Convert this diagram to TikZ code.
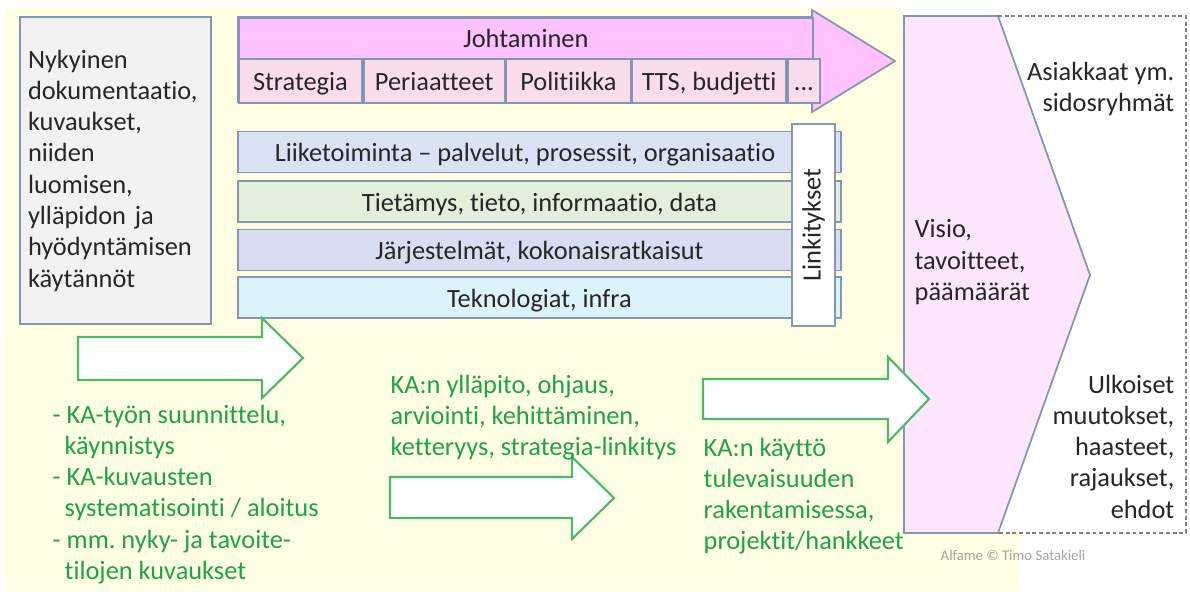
\documentclass[tikz,border=0pt]{standalone}
\usepackage{fontspec}
\setmainfont{Carlito}[Ligatures=CommonOff]
\usetikzlibrary{positioning}
\frenchspacing

\definecolor{bgyellow}{HTML}{FFFFE3}
\definecolor{edgeblue}{HTML}{8497B0}
\definecolor{ink}{HTML}{262626}
\definecolor{boxgray}{HTML}{F2F2F2}
\definecolor{headpink}{HTML}{FFC2FF}
\definecolor{cellpink}{HTML}{FADDEC}
\definecolor{liikeblue}{HTML}{DAE3F3}
\definecolor{tietogreen}{HTML}{E2EFDA}
\definecolor{jarjblue}{HTML}{D8DEF1}
\definecolor{teknocyan}{HTML}{DDF3FC}
\definecolor{visiopink}{HTML}{FFE6FF}
\definecolor{kagreen}{HTML}{1FA24B}
\definecolor{arrowgreen}{HTML}{4DB86A}
\definecolor{markgray}{HTML}{A3A3A3}

\tikzset{
  box/.style={draw=edgeblue, line width=0.5pt, inner sep=0pt, text=ink},
  cell/.style={box, fill=cellpink, minimum height=0.44cm, text height=1.5ex, text depth=0.35ex},
  layer/.style={box, minimum width=6.03cm, minimum height=0.41cm, text height=1.5ex, text depth=0.35ex},
  blockarrow/.style={draw=arrowgreen, line width=0.6pt, fill=white, line join=miter},
  greentext/.style={text=kagreen, align=left, inner sep=0pt, anchor=north west},
  blacktext/.style={text=ink, inner sep=0pt},
}

\begin{document}
\begin{tikzpicture}[x=1cm, y=-1cm, font=\fontsize{7.5}{8.9}\selectfont]
  \useasboundingbox (0,0) rectangle (11.90,5.97);

  % background
  \fill[bgyellow] (0.05,0.08) -- (9.02,0.08) -- (9.02,5.34) -- (10.18,5.34)
    -- (10.18,5.92) -- (0.05,5.92) -- cycle;

  % current documentation
  \node[box, fill=boxgray, minimum width=1.91cm, minimum height=3.07cm,
    text width=1.75cm, align=left, inner sep=0.08cm] (nykyinen) at (1.155,1.705)
    {Nykyinen\\dokumentaatio,\\kuvaukset,\\niiden\\luomisen,\\ylläpidon ja\\hyödyntämisen\\käytännöt};

  % Johtaminen arrow
  \draw[edgeblue, line width=0.5pt, fill=headpink] (2.38,0.17) -- (8.12,0.17) -- (8.12,0.10)
    -- (8.95,0.61) -- (8.12,1.12) -- (8.12,1.02) -- (2.38,1.02) -- cycle;
  \node[box, fill=headpink, minimum width=5.74cm, minimum height=0.41cm, anchor=north west]
    (johtaminen) at (2.38,0.17) {Johtaminen};
  \node[cell, minimum width=1.23cm, anchor=north west] (strategia) at (2.38,0.58) {Strategia};
  \node[cell, minimum width=1.41cm, right=0pt of strategia] (periaatteet) {Periaatteet};
  \node[cell, minimum width=1.24cm, right=0pt of periaatteet] (politiikka) {Politiikka};
  \node[cell, minimum width=1.54cm, right=0pt of politiikka] (tts) {TTS, budjetti};
  \node[cell, minimum width=0.32cm, right=0pt of tts] (muut) {...};

  % layers
  \node[layer, fill=liikeblue] (liiketoiminta) at (5.395,1.52)
    {Liiketoiminta -- palvelut, prosessit, organisaatio\hspace*{0.29cm}};
  \node[layer, fill=tietogreen] (tietamys) at (5.395,2.015) {Tietämys, tieto, informaatio, data};
  \node[layer, fill=jarjblue] (jarjestelmat) at (5.395,2.50) {Järjestelmät, kokonaisratkaisut};
  \node[layer, fill=teknocyan] (teknologiat) at (5.395,2.975) {Teknologiat, infra};
  \node[box, fill=white, rotate=90, minimum width=2.02cm, minimum height=0.43cm]
    (linkitykset) at (8.135,2.25) {Linkitykset};

  % vision and surroundings
  \draw[edgeblue, line width=0.5pt, fill=visiopink] (9.04,0.16) -- (9.98,0.16) -- (10.90,2.75)
    -- (9.98,5.33) -- (9.04,5.33) -- cycle;
  \draw[gray, line width=0.5pt, dash pattern=on 1.1pt off 0.8pt] (9.98,0.16) -- (11.86,0.16)
    -- (11.86,5.33) -- (9.98,5.33);
  \node[blacktext, align=left, anchor=north west] (visio) at (9.14,2.19) {Visio,\\tavoitteet,\\päämäärät};
  \node[blacktext, align=right, anchor=north east] (asiakkaat) at (11.75,0.61) {Asiakkaat ym.\\sidosryhmät};
  \node[blacktext, align=right, anchor=north east] (ulkoiset) at (11.75,3.74)
    {Ulkoiset\\muutokset,\\haasteet,\\rajaukset,\\ehdot};

  % phase arrows
  \draw[blockarrow] (0.78,3.37) -- (2.62,3.37) -- (2.62,3.18) -- (3.03,3.58)
    -- (2.62,3.98) -- (2.62,3.80) -- (0.78,3.80) -- cycle;
  \draw[blockarrow] (3.90,4.77) -- (5.72,4.77) -- (5.72,4.57) -- (6.14,4.98)
    -- (5.72,5.39) -- (5.72,5.18) -- (3.90,5.18) -- cycle;
  \draw[blockarrow] (7.03,3.79) -- (8.88,3.79) -- (8.88,3.57) -- (9.29,3.99)
    -- (8.88,4.42) -- (8.88,4.19) -- (7.03,4.19) -- cycle;

  % phase texts
  \node[greentext] (aloitus) at (0.52,4.04)
    {- KA-työn suunnittelu,\\\hspace*{0.12cm}käynnistys\\- KA-kuvausten\\\hspace*{0.12cm}systematisointi / aloitus\\- mm. nyky- ja tavoite-\\\hspace*{0.12cm}tilojen kuvaukset};
  \node[greentext] (yllapito) at (3.90,3.74)
    {KA:n ylläpito, ohjaus,\\arviointi, kehittäminen,\\ketteryys, strategia-linkitys};
  \node[greentext] (kaytto) at (7.03,4.37)
    {KA:n käyttö\\tulevaisuuden\\rakentamisessa,\\projektit/hankkeet};

  \node[text=markgray, inner sep=0pt, font=\fontsize{4.2}{5}\selectfont] (alfame) at (10.13,5.55)
    {Alfame © Timo Satakieli};
\end{tikzpicture}
\end{document}
